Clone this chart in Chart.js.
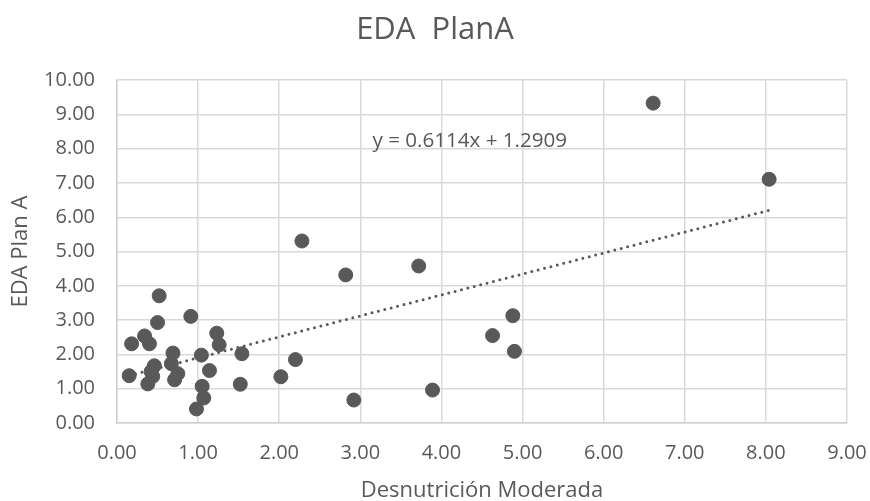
<!DOCTYPE html>
<html lang="es">
<head>
    <meta charset="UTF-8">
    <title>EDA PlanA</title>
    <script src="https://cdn.jsdelivr.net/npm/chart.js"></script>
    <style>
        html, body { margin: 0; padding: 0; background: #ffffff; }
        #wrap { width: 870px; height: 501px; }
    </style>
</head>
<body>
    <div id="wrap"><canvas id="chart"></canvas></div>

    <script>
        // Desnutrición moderada (x) contra EDA Plan A (y)
        const desnutricion = [6.61, 8.04, 2.28, 2.82, 3.72, 4.63, 4.88, 4.90, 2.92, 3.89,
                              2.20, 2.02, 1.54, 1.52, 0.52, 0.50, 0.91, 0.18, 0.34, 0.40,
                              1.23, 1.26, 0.69, 1.04, 0.67, 0.46, 0.15, 0.42, 0.44, 0.38,
                              0.75, 0.71, 1.14, 1.05, 1.07, 0.98];
        const edaPlanA = [9.33, 7.11, 5.31, 4.32, 4.58, 2.55, 3.13, 2.09, 0.67, 0.96,
                          1.85, 1.35, 2.02, 1.13, 3.71, 2.93, 3.11, 2.31, 2.54, 2.31,
                          2.62, 2.28, 2.04, 1.98, 1.73, 1.67, 1.38, 1.50, 1.36, 1.14,
                          1.44, 1.26, 1.53, 1.07, 0.73, 0.41];

        // línea de tendencia lineal
        const pendiente = 0.6114;
        const intercepto = 1.2909;
        const ecuacion = 'y = 0.6114x + 1.2909';

        const gris = '#595959';
        const fuente = "'Open Sans', sans-serif";

        const puntos = desnutricion.map((x, i) => ({ x: x, y: edaPlanA[i] }));
        const xMin = Math.min(...desnutricion);
        const xMax = Math.max(...desnutricion);
        const tendencia = [
            { x: xMin, y: pendiente * xMin + intercepto },
            { x: xMax, y: pendiente * xMax + intercepto }
        ];

        // texto de la ecuación dentro del área del gráfico
        const etiquetaEcuacion = {
            id: 'etiquetaEcuacion',
            afterDatasetsDraw(chart) {
                const ctx = chart.ctx;
                const px = chart.scales.x.getPixelForValue(3.15);
                const py = chart.scales.y.getPixelForValue(8.22);
                ctx.save();
                ctx.font = '20.6px ' + fuente;
                ctx.fillStyle = gris;
                ctx.textAlign = 'left';
                ctx.textBaseline = 'middle';
                ctx.fillText(ecuacion, px, py);
                ctx.restore();
            }
        };

        new Chart(document.getElementById('chart'), {
            type: 'scatter',
            data: {
                datasets: [{
                    label: 'EDA Plan A',
                    data: puntos,
                    backgroundColor: gris,
                    borderColor: gris,
                    pointRadius: 7,
                    pointHoverRadius: 7,
                    order: 2
                }, {
                    type: 'line',
                    label: 'Tendencia',
                    data: tendencia,
                    borderColor: gris,
                    borderWidth: 3,
                    borderDash: [0, 6.6],
                    borderCapStyle: 'round',
                    pointRadius: 0,
                    fill: false,
                    order: 1
                }]
            },
            options: {
                responsive: true,
                maintainAspectRatio: false,
                animation: false,
                layout: { padding: { left: 0, right: 0, top: 0, bottom: 0 } },
                plugins: {
                    legend: { display: false },
                    tooltip: { enabled: false },
                    title: {
                        display: true,
                        text: 'EDA  PlanA',
                        color: gris,
                        font: { family: fuente, size: 31, weight: 'normal' },
                        padding: { top: 12, bottom: 31 }
                    }
                },
                scales: {
                    x: {
                        type: 'linear',
                        min: 0,
                        max: 9,
                        ticks: {
                            stepSize: 1,
                            color: gris,
                            padding: 18,
                            font: { family: fuente, size: 20 },
                            callback: v => v.toFixed(2)
                        },
                        grid: { color: '#d9d9d9', lineWidth: 1.5, drawTicks: false },
                        border: { color: '#d0d0d0', width: 1.5 },
                        title: {
                            display: true,
                            text: 'Desnutrición Moderada',
                            color: gris,
                            font: { family: fuente, size: 22, lineHeight: 0.9 },
                            padding: { top: 0, bottom: 0 }
                        },
                        afterFit(scale) {
                            scale.height = 78;
                            scale.paddingLeft = 0;
                            scale.paddingRight = 23;
                        }
                    },
                    y: {
                        min: 0,
                        max: 10,
                        ticks: {
                            stepSize: 1,
                            color: gris,
                            padding: 22,
                            font: { family: fuente, size: 20 },
                            callback: v => v.toFixed(2)
                        },
                        grid: { color: '#d9d9d9', lineWidth: 1.5, drawTicks: false },
                        border: { color: '#d0d0d0', width: 1.5 },
                        title: {
                            display: true,
                            text: 'EDA Plan A',
                            color: gris,
                            font: { family: fuente, size: 22 },
                            padding: { top: 8, bottom: 0 }
                        },
                        afterFit(scale) { scale.width = 117; }
                    }
                }
            },
            plugins: [etiquetaEcuacion]
        });
    </script>
</body>
</html>
